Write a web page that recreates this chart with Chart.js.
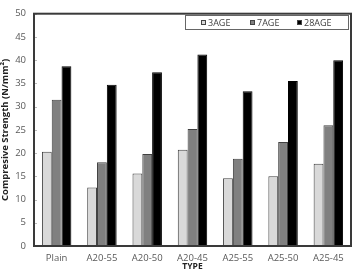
<!DOCTYPE html>
<html>
<head>
<meta charset="utf-8">
<script src="https://cdn.jsdelivr.net/npm/chart.js@4/dist/chart.umd.min.js"></script>
<style>
  html, body { margin: 0; padding: 0; background: #fff; }
  #wrap { width: 355px; height: 269px; }
</style>
</head>
<body>
<div id="wrap"><canvas id="c" width="355" height="269"></canvas></div>
<script>
var types = ['Plain', 'A20-55', 'A20-50', 'A20-45', 'A25-55', 'A25-50', 'A25-45'];
var age3 = [20.3, 12.6, 15.6, 20.7, 14.6, 15.0, 17.7];
var age7 = [31.5, 18.0, 19.8, 25.2, 18.8, 22.4, 26.0];
var age28 = [38.7, 34.7, 37.4, 41.2, 33.3, 35.5, 40.0];

var tickFont = { family: 'Open Sans', size: 9.5 };
var tickColor = '#595959';

// frame around the plot, small inner ticks, and the legend box inside it
var framePlugin = {
    id: 'frame',
    afterDraw: function(chart) {
        var ctx = chart.ctx;
        var a = chart.chartArea;
        var y = chart.scales.y;
        ctx.save();
        ctx.strokeStyle = '#bbb';
        ctx.lineWidth = 1;
        y.ticks.forEach(function(t) {
            var py = Math.round(y.getPixelForValue(t.value)) + 0.5;
            ctx.beginPath();
            ctx.moveTo(a.left, py);
            ctx.lineTo(a.left + 3, py);
            ctx.stroke();
        });
        ctx.strokeStyle = '#3a3a3a';
        ctx.lineWidth = 2;
        ctx.strokeRect(a.left, a.top, a.right - a.left, a.bottom - a.top);

        // legend
        var lx = 185, ly = 15, lw = 163, lh = 14;
        ctx.lineWidth = 1;
        ctx.strokeStyle = '#666';
        ctx.strokeRect(lx + 0.5, ly + 0.5, lw, lh);
        ctx.font = '9px "Open Sans"';
        ctx.textBaseline = 'middle';
        var xs = [201, 250, 297];
        chart.data.datasets.forEach(function(ds, i) {
            ctx.fillStyle = ds.backgroundColor;
            ctx.fillRect(xs[i], ly + 5, 5, 5);
            ctx.strokeStyle = '#444';
            ctx.strokeRect(xs[i] + 0.5, ly + 5.5, 4, 4);
            ctx.fillStyle = '#404040';
            ctx.fillText(ds.label, xs[i] + 7, ly + 8);
        });
        ctx.restore();
    }
};

var ctx = document.getElementById('c').getContext('2d');
new Chart(ctx, {
    type: 'bar',
    data: {
        labels: types,
        datasets: [
            { label: '3AGE', data: age3, backgroundColor: '#d9d9d9', borderColor: '#404040', borderWidth: 1 },
            { label: '7AGE', data: age7, backgroundColor: '#808080', borderColor: '#404040', borderWidth: 1 },
            { label: '28AGE', data: age28, backgroundColor: '#000000', borderColor: '#000000', borderWidth: 1 }
        ]
    },
    options: {
        responsive: false,
        animation: false,
        layout: { padding: { top: 10, right: 4, left: 0, bottom: 0 } },
        plugins: {
            legend: { display: false },
            tooltip: { enabled: false }
        },
        datasets: {
            bar: { categoryPercentage: 0.65, barPercentage: 1.0 }
        },
        scales: {
            x: {
                grid: { display: false, drawTicks: false },
                border: { display: false },
                ticks: { font: tickFont, color: tickColor, padding: 7, maxRotation: 0 },
                title: { display: true, text: 'TYPE', font: { family: 'Open Sans', size: 8.5, weight: 'bold' }, color: '#222', padding: { top: 0, bottom: -3 } },
                afterFit: function(s) { s.height = 23; }
            },
            y: {
                min: 0,
                max: 50,
                grid: { display: false, drawTicks: false },
                border: { display: false },
                ticks: { stepSize: 5, font: tickFont, color: tickColor, padding: 8 },
                title: { display: true, text: 'Compresive Strength (N/mm²)', font: { family: 'Open Sans', size: 9.5, weight: 'bold' }, color: '#222', padding: { top: 0, bottom: 0 } },
                afterFit: function(s) { s.width = 34; }
            }
        }
    },
    plugins: [framePlugin]
});
</script>
</body>
</html>
